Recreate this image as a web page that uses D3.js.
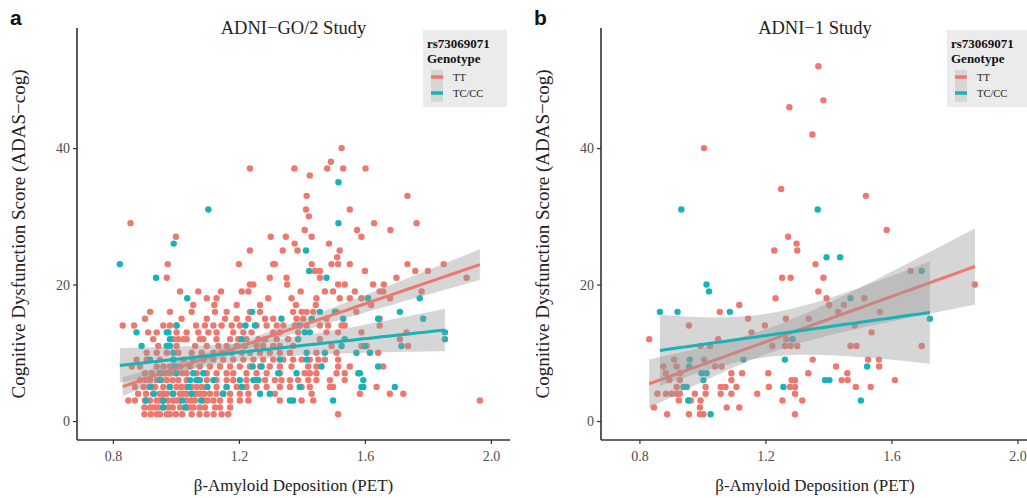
<!DOCTYPE html>
<html>
<head>
<meta charset="utf-8">
<script src="https://cdnjs.cloudflare.com/ajax/libs/d3/7.8.5/d3.min.js"></script>
<style>
  body { margin: 0; background: #fff; }
  svg text { font-family: "Liberation Serif", "Times New Roman", serif; }
  .tick text { fill: #4d4d4d; font-size: 14px; }
  .panelLetter { font-family: "Liberation Sans", Arial, sans-serif !important; font-weight: bold; font-size: 21px; }
</style>
</head>
<body>
<div id="chart"></div>
<script>
var width = 1027, height = 498;
var TT = "#EE776E", TC = "#17B3B6";

// ADNI-GO/2, rows of [score, amyloid values]
const aTT = [
  [40,[1.526]], [38,[1.492]], [37,[1.235,1.376,1.480,1.531,1.602]], [36,[1.425]],
  [33,[1.415,1.735]], [31,[1.413,1.552]], [30,[1.422]], [29,[0.856,1.629,1.764]],
  [28,[1.409,1.575,1.681]], [27,[1.000,1.301,1.349,1.431,1.589]], [26,[1.377,1.486]],
  [25,[1.235,1.339,1.386,1.520]], [24,[1.512]],
  [23,[0.974,1.200,1.309,1.314,1.431,1.494,1.515,1.552,1.735,1.850]],
  [22,[1.441,1.457,1.600,1.760,1.800]], [21,[0.971,1.298,1.351,1.457,1.700,1.923]],
  [20,[1.235,1.246,1.353,1.515,1.536,1.626,1.660]],
  [19,[1.013,1.071,1.143,1.209,1.230,1.396,1.473,1.499,1.568,1.647,1.658,1.780]],
  [18,[1.098,1.129,1.293,1.367,1.446,1.520,1.552,1.589,1.680]],
  [17,[1.055,1.122,1.193,1.267,1.381,1.444,1.620]],
  [16,[0.918,0.981,1.050,1.124,1.161,1.235,1.267,1.372,1.399,1.415,1.436,1.510,1.573]],
  [15,[0.902,1.018,1.098,1.156,1.193,1.230,1.283,1.309,1.383,1.404,1.478,1.647]],
  [14,[0.831,0.867,0.960,0.981,1.002,1.064,1.092,1.119,1.145,1.177,1.203,1.256,1.288,1.320,1.341,1.378,1.415,1.457,1.483,1.526,1.536,1.647]],
  [13,[0.912,0.939,1.002,1.034,1.071,1.103,1.129,1.182,1.214,1.240,1.309,1.330,1.388,1.478,1.515,1.589,1.732]],
  [12,[0.928,0.992,1.008,1.024,1.034,1.076,1.087,1.129,1.172,1.198,1.224,1.262,1.283,1.320,1.356,1.457,1.711]],
  [11,[0.944,1.002,1.061,1.098,1.135,1.161,1.193,1.219,1.256,1.277,1.309,1.330,1.372,1.494,1.589,1.605,1.737]],
  [10,[0.907,0.939,0.971,1.008,1.050,1.082,1.119,1.145,1.177,1.209,1.235,1.267,1.298,1.330,1.362,1.446,1.510,1.642]],
  [9,[0.875,0.907,0.949,0.992,1.024,1.055,1.087,1.119,1.150,1.182,1.214,1.246,1.277,1.309,1.341,1.372,1.399,1.425,1.452,1.473,1.515]],
  [8,[0.860,0.886,0.939,0.960,0.981,1.013,1.045,1.076,1.108,1.140,1.172,1.203,1.235,1.267,1.298,1.330,1.367,1.420,1.446,1.515,1.552,1.658]],
  [7,[0.902,0.923,0.949,0.965,0.981,1.002,1.020,1.034,1.066,1.098,1.129,1.161,1.182,1.224,1.256,1.288,1.330,1.409,1.425,1.446,1.510,1.536]],
  [6,[0.886,0.903,0.918,0.939,0.955,0.971,0.990,1.008,1.034,1.065,1.098,1.129,1.161,1.182,1.224,1.256,1.283,1.314,1.335,1.362,1.388,1.420,1.446,1.489,1.536]],
  [5,[0.870,0.897,0.915,0.934,0.960,0.981,1.002,1.018,1.034,1.050,1.066,1.082,1.098,1.129,1.161,1.193,1.224,1.256,1.288,1.330,1.362,1.399,1.425,1.489,1.499,1.637]],
  [4,[0.880,0.905,0.928,0.949,0.960,0.971,0.992,1.013,1.024,1.034,1.050,1.063,1.076,1.090,1.108,1.129,1.150,1.172,1.203,1.230,1.314,1.431,1.584,1.679,1.722]],
  [3,[0.849,0.870,0.902,0.918,0.939,0.950,0.960,0.975,0.992,1.003,1.013,1.034,1.048,1.060,1.087,1.100,1.119,1.140,1.172,1.203,1.230,1.330,1.399,1.436,1.965]],
  [2,[0.900,0.918,0.930,0.944,0.960,0.976,0.990,1.013,1.030,1.042,1.055,1.075,1.092,1.124,1.140,1.172]],
  [1,[0.900,0.920,0.939,0.950,0.971,0.981,1.000,1.020,1.050,1.075,1.098,1.120,1.145,1.166,1.515]]
];
const aTC = [
  [35,[1.516]], [31,[1.103]], [29,[1.516]], [26,[0.993]], [25,[1.413]], [23,[0.822]],
  [22,[1.423]], [21,[0.937,1.478]], [18,[1.036,1.610,1.774]],
  [16,[1.242,1.457,1.505,1.711]], [15,[1.335,1.431,1.531,1.642,1.785]],
  [14,[1.002,1.221,1.251,1.393]], [13,[0.875,0.971,0.976,1.409,1.425,1.854]],
  [12,[0.981,1.209,1.388,1.536,1.854]], [11,[0.891,0.971,0.981,1.526,1.600,1.716]],
  [10,[0.992,1.415,1.473,1.573,1.616]], [9,[0.918,0.992,1.330,1.415]],
  [8,[0.997,1.244,1.272,1.462,1.642]], [7,[0.950,1.000,1.055,1.087,1.325,1.383,1.579,1.584]],
  [6,[0.949,1.045,1.066,1.076,1.119,1.203,1.246,1.262,1.595]],
  [5,[0.920,0.980,1.040,1.100,1.161,1.209,1.393,1.589,1.595,1.695]],
  [4,[0.930,0.990,1.050,1.150,1.267,1.298]],
  [3,[0.905,0.960,1.020,1.080,1.362,1.372,1.499]], [2,[0.960,1.030]]
];

// ADNI-1
const bTT = [
  [52,[1.368]], [47,[1.384]], [46,[1.276]], [42,[1.349]], [40,[1.005]], [34,[1.250]],
  [33,[1.519]], [28,[1.585]], [27,[1.272]], [26,[1.299]], [25,[1.228,1.301]], [23,[1.359]],
  [22,[1.661]], [21,[1.253,1.280,1.384]], [20,[1.865]], [19,[1.368]],
  [18,[1.232,1.394,1.514]], [17,[1.117,1.402,1.449]], [16,[1.055,1.431,1.563]],
  [15,[1.145,1.265,1.338]], [14,[0.957,1.198,1.484]], [13,[1.156,1.537]],
  [12,[0.831,1.050,1.266]], [11,[0.994,1.024,1.222,1.262,1.280,1.301,1.470,1.489,1.696]],
  [9,[0.910,1.005,1.350,1.526,1.560]], [8,[0.876,0.918,1.040,1.061,1.424,1.561]],
  [7,[0.884,0.928,1.092,1.126,1.209,1.336,1.460]],
  [6,[0.895,0.928,1.092,1.283,1.294,1.442,1.461,1.611]],
  [5,[0.918,1.010,1.058,1.073,1.108,1.211,1.278,1.294,1.487,1.534]],
  [4,[0.857,0.884,0.902,0.918,0.928,0.976,1.010,1.058,1.092,1.174,1.294]],
  [3,[0.925,0.963,0.994,1.254,1.317]], [2,[0.846,0.992,1.077,1.117]],
  [1,[0.888,0.957,0.992,1.003,1.294]]
];
const bTC = [
  [31,[0.933,1.366]], [24,[1.394,1.437]], [22,[1.696]], [20,[1.013]], [19,[1.021]],
  [18,[1.470]], [16,[0.865,0.921,1.087]], [15,[1.722]], [12,[1.286]],
  [9,[0.960,1.130,1.262]], [8,[0.958,1.523]], [7,[0.997,1.013]],
  [6,[1.003,1.389,1.403]], [5,[0.940,0.950,1.257]], [3,[0.955,1.503]], [1,[1.026]]
];

const xTicks = [0.8, 1.2, 1.6, 2.0];
const yTicks = [0, 20, 40];
const genotypes = ["TT", "TC/CC"];

var panels = [
  {letter: "a", title: "ADNI\u2212GO/2 Study", tt: aTT, tc: aTC, left: 77, right: 510, xmin: 0.686, legendX: 423},
  {letter: "b", title: "ADNI\u22121 Study", tt: bTT, tc: bTC, left: 601, right: 1029, xmin: 0.678, legendX: 947}
];

function flatten(rows) {
  var out = [];
  rows.forEach(function(r) {
    r[1].forEach(function(x) { out.push({x: x, y: r[0]}); });
  });
  return out;
}

// linear fit with 95% confidence band
function lmBand(pts, steps) {
  var n = pts.length;
  var mx = d3.mean(pts, d => d.x), my = d3.mean(pts, d => d.y);
  var sxx = d3.sum(pts, d => (d.x - mx) * (d.x - mx));
  var sxy = d3.sum(pts, d => (d.x - mx) * (d.y - my));
  var b = sxy / sxx, a = my - b * mx;
  var sse = d3.sum(pts, d => Math.pow(d.y - a - b * d.x, 2));
  var s = Math.sqrt(sse / (n - 2));
  var t = 1.96 + 2.4 / (n - 2);
  var ext = d3.extent(pts, d => d.x);
  var out = [];
  for (var i = 0; i <= steps; i++) {
    var x = ext[0] + (ext[1] - ext[0]) * i / steps;
    var fitY = a + b * x;
    var se = s * Math.sqrt(1 / n + (x - mx) * (x - mx) / sxx);
    out.push({x: x, y: fitY, lo: fitY - t * se, hi: fitY + t * se});
  }
  return out;
}

var svg = d3.select('#chart').append('svg')
  .attr('width', width).attr('height', height);

var yScale = d3.scaleLinear().domain([-2.78, 57.6]).range([440, 28]);

panels.forEach(function(p) {
  var xScale = d3.scaleLinear()
    .domain([p.xmin, p.xmin + (p.right - p.left) / 315])
    .range([p.left, p.right]);
  var g = svg.append('g');

  var ttPts = flatten(p.tt), tcPts = flatten(p.tc);

  g.selectAll('.ptt').data(ttPts).enter().append('circle')
    .attr('cx', d => xScale(d.x)).attr('cy', d => yScale(d.y))
    .attr('r', 3.2).attr('fill', TT);
  g.selectAll('.ptc').data(tcPts).enter().append('circle')
    .attr('cx', d => xScale(d.x)).attr('cy', d => yScale(d.y))
    .attr('r', 3.2).attr('fill', TC);

  [[ttPts, TT], [tcPts, TC]].forEach(function(grp) {
    var band = lmBand(grp[0], 80);
    g.append('path').datum(band)
      .attr('fill', '#999').attr('fill-opacity', 0.4)
      .attr('d', d3.area().x(d => xScale(d.x)).y0(d => yScale(d.lo)).y1(d => yScale(d.hi)));
    g.append('path').datum(band)
      .attr('fill', 'none').attr('stroke', grp[1]).attr('stroke-width', 3)
      .attr('d', d3.line().x(d => xScale(d.x)).y(d => yScale(d.y)));
  });

  // axes
  var xAxis = d3.axisBottom(xScale).tickValues(xTicks).tickFormat(d3.format('.1f')).tickSize(4).tickPadding(7);
  var gx = g.append('g').attr('transform', 'translate(0,440)').call(xAxis);
  var yAxis = d3.axisLeft(yScale).tickValues(yTicks).tickSize(4).tickPadding(3);
  var gy = g.append('g').attr('transform', 'translate(' + p.left + ',0)').call(yAxis);
  [gx, gy].forEach(function(ax) {
    ax.select('.domain').remove();
    ax.selectAll('.tick line').attr('stroke', '#333').attr('stroke-width', 1.2);
  });
  g.append('line').attr('x1', p.left).attr('x2', p.left).attr('y1', 28).attr('y2', 440)
    .attr('stroke', '#333').attr('stroke-width', 1.6);
  g.append('line').attr('x1', p.left).attr('x2', p.right).attr('y1', 440).attr('y2', 440)
    .attr('stroke', '#333').attr('stroke-width', 1.6);

  var cx = (p.left + p.right) / 2;
  g.append('text').attr('x', cx).attr('y', 491).attr('text-anchor', 'middle')
    .attr('font-size', 17).attr('fill', '#222').text('\u03b2-Amyloid Deposition (PET)');
  g.append('text').attr('transform', 'translate(' + (p.left - 52) + ',234) rotate(-90)')
    .attr('text-anchor', 'middle').attr('font-size', 19).attr('fill', '#222')
    .text('Cognitive Dysfunction Score (ADAS\u2212cog)');
  g.append('text').attr('x', cx).attr('y', 34).attr('text-anchor', 'middle')
    .attr('font-size', 18.5).attr('fill', '#222').text(p.title);
  g.append('text').attr('class', 'panelLetter').attr('x', p.left - 67).attr('y', 25)
    .attr('fill', '#111').text(p.letter);

  // legend
  var lg = g.append('g').attr('transform', 'translate(' + p.legendX + ',30)');
  lg.append('rect').attr('width', 84).attr('height', 77).attr('fill', '#ebebeb');
  lg.append('text').attr('x', 4).attr('y', 18).attr('font-size', 13).attr('font-weight', 'bold')
    .attr('fill', '#111').text('rs73069071');
  lg.append('text').attr('x', 4).attr('y', 33).attr('font-size', 13).attr('font-weight', 'bold')
    .attr('fill', '#111').text('Genotype');
  genotypes.forEach(function(gname, i) {
    var yy = 40 + i * 16;
    lg.append('rect').attr('x', 8).attr('y', yy).attr('width', 12).attr('height', 16).attr('fill', '#d6d6d6');
    lg.append('line').attr('x1', 8).attr('x2', 20).attr('y1', yy + 7).attr('y2', yy + 7)
      .attr('stroke', i === 0 ? TT : TC).attr('stroke-width', 3.5);
    lg.append('text').attr('x', 30).attr('y', yy + 11).attr('font-size', 10.5)
      .attr('fill', '#222').text(gname);
  });
});
</script>
</body>
</html>
